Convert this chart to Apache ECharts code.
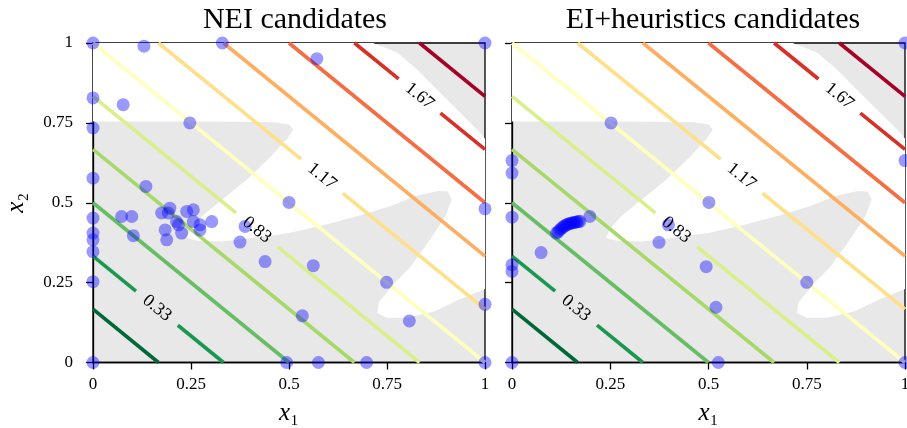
<!DOCTYPE html>
<html><head><meta charset="utf-8">
<script src="https://cdn.jsdelivr.net/npm/echarts@6/dist/echarts.min.js"></script>
<style>html,body{margin:0;padding:0;background:#fff}#c{width:907px;height:428px}</style>
</head><body><div id="c"></div>
<script>
const titles = ['NEI candidates', 'EI+heuristics candidates'];
const tickValues = [0, 0.25, 0.5, 0.75, 1];
const levels = [0.167, 0.333, 0.5, 0.667, 0.833, 1.0, 1.167, 1.333, 1.5, 1.667, 1.833];
const levelColors = ['#006837','#1a9850','#66bd63','#a6d96a','#d9ef8b','#ffffbf','#fee08b','#fdae61','#f46d43','#d73027','#a50026'];
const labelTexts = ['0.33', '0.83', '1.17', '1.67'];
const labelLevels = [0.333, 0.833, 1.167, 1.667];
const labelX1 = [0.163, 0.418, 0.584, 0.833];

// outline of the white (feasible) region, in data coordinates
const feasX1 = [0, 0.714, 0.776, 0.827, 0.878, 0.929, 0.98, 1, 1, 0.93, 0.87, 0.80, 0.75, 0.725, 0.73, 0.77, 0.81, 0.86, 0.90, 0.915, 0.905, 0.88, 0.82, 0.76, 0.68, 0.59, 0.50, 0.40, 0.33, 0.27, 0.239, 0.25, 0.28, 0.33, 0.39, 0.45, 0.495, 0.511, 0.50, 0.46, 0.30, 0];
const feasX2 = [1, 1, 0.97, 0.917, 0.854, 0.791, 0.729, 0.70, 0.23, 0.195, 0.16, 0.14, 0.14, 0.155, 0.19, 0.25, 0.30, 0.385, 0.46, 0.51, 0.535, 0.537, 0.52, 0.49, 0.46, 0.43, 0.405, 0.389, 0.379, 0.38, 0.39, 0.42, 0.46, 0.51, 0.57, 0.64, 0.70, 0.729, 0.745, 0.752, 0.754, 0.754];

const neiX1 = [0, 0.13, 0.33, 1, 0.571, 0, 0.077, 0, 0.247, 0, 0.135, 0, 0.073, 0.099, 0, 0.103, 0, 0, 0, 0,
  0.175, 0.196, 0.192, 0.239, 0.256, 0.213, 0.218, 0.184, 0.188, 0.226, 0.256, 0.273, 0.273, 0.303,
  0.388, 0.375, 0.5, 0.439, 0.562, 0.749, 1, 0.807, 0.534, 1, 0.494, 0.575, 0.698, 1];
const neiX2 = [1, 0.99, 1, 1, 0.951, 0.828, 0.807, 0.734, 0.75, 0.577, 0.551, 0.452, 0.457, 0.457, 0.405, 0.397, 0.384, 0.347, 0.253, 0,
  0.468, 0.483, 0.468, 0.473, 0.478, 0.441, 0.431, 0.415, 0.384, 0.405, 0.441, 0.431, 0.415, 0.441,
  0.426, 0.377, 0.501, 0.316, 0.303, 0.251, 0.481, 0.13, 0.146, 0.182, 0, 0, 0, 0];

const eiX1 = [1, 0.252, 0, 0, 1, 0, 0.198, 0.501, 0.398, 0.374, 0.074, 0, 0, 0.494, 0.519, 0.75, 0, 0.525, 1,
  0.113, 0.117, 0.121, 0.125, 0.129, 0.133, 0.137, 0.141, 0.145, 0.149, 0.153, 0.157, 0.161, 0.165, 0.169, 0.173];
const eiX2 = [1, 0.75, 0.632, 0.593, 0.632, 0.455, 0.457, 0.501, 0.431, 0.376, 0.344, 0.306, 0.285, 0.30, 0.173, 0.251, 0, 0, 0,
  0.405, 0.409, 0.414, 0.419, 0.423, 0.427, 0.430, 0.432, 0.434, 0.436, 0.437, 0.438, 0.439, 0.440, 0.441, 0.442];

const SERIF = 'Liberation Serif';
const grids = [
  {left: 93, top: 43, width: 392, height: 319.5},
  {left: 512, top: 43, width: 393, height: 319.5}
];

function zip(a, b) { return a.map((v, i) => [v, b[i]]); }

const nameRich = {
  i: {fontFamily: SERIF, fontStyle: 'italic', fontSize: 25, color: '#000'},
  s: {fontFamily: SERIF, fontSize: 25, color: '#000'}
};

const series = [];
const xAxes = [], yAxes = [];
[0, 1].forEach(gi => {
  xAxes.push({
    type: 'value', gridIndex: gi, min: 0, max: 1, interval: 0.25,
    axisLine: {show: true, lineStyle: {color: '#000', width: 1.3}},
    axisTick: {show: true, length: 7, lineStyle: {color: '#000', width: 1.3}},
    axisLabel: {show: true, margin: 14, color: '#000', fontFamily: SERIF, fontSize: 17},
    splitLine: {show: false},
    name: '{i|x}{s|₁}', nameLocation: 'middle', nameGap: 38,
    nameTextStyle: {rich: nameRich}
  });
  yAxes.push({
    type: 'value', gridIndex: gi, min: 0, max: 1, interval: 0.25,
    axisLine: {show: true, lineStyle: {color: '#000', width: 1.3}},
    axisTick: {show: true, length: 7, lineStyle: {color: '#000', width: 1.3}},
    axisLabel: {show: gi === 0, margin: 20, color: '#000', fontFamily: SERIF, fontSize: 17},
    splitLine: {show: false},
    name: gi === 0 ? '{i|x}{s|₂}' : '', nameLocation: 'middle', nameGap: 64, nameRotate: 90,
    nameTextStyle: {rich: nameRich}
  });

  // white feasible region
  series.push({
    type: 'custom', xAxisIndex: gi, yAxisIndex: gi, silent: true, z: 1,
    data: [[0, 0]],
    renderItem: function (params, api) {
      const pts = feasX1.map((x, i) => api.coord([x, feasX2[i]]));
      return {type: 'polygon', shape: {points: pts}, style: {fill: '#ffffff', stroke: null}};
    }
  });

  // contour lines of x1 + x2
  series.push({
    type: 'custom', xAxisIndex: gi, yAxisIndex: gi, silent: true, z: 2,
    data: levels.map((c, i) => [c, i]),
    encode: {x: 0, y: 1},
    renderItem: function (params, api) {
      const c = levels[params.dataIndex];
      const col = levelColors[params.dataIndex];
      const a = api.coord([Math.max(0, c - 1), Math.min(1, c)]);
      const b = api.coord([Math.min(1, c), Math.max(0, c - 1)]);
      const li = labelLevels.indexOf(c);
      const style = {stroke: col, lineWidth: 3.6, fill: null};
      if (li < 0) {
        return {type: 'line', shape: {x1: a[0], y1: a[1], x2: b[0], y2: b[1]}, style: style};
      }
      const lx = labelX1[li];
      const p = api.coord([lx, c - lx]);
      const dx = b[0] - a[0], dy = b[1] - a[1];
      const L = Math.sqrt(dx * dx + dy * dy);
      const ux = dx / L, uy = dy / L, hg = 27;
      return {type: 'group', children: [
        {type: 'line', shape: {x1: a[0], y1: a[1], x2: p[0] - ux * hg, y2: p[1] - uy * hg}, style: style},
        {type: 'line', shape: {x1: p[0] + ux * hg, y1: p[1] + uy * hg, x2: b[0], y2: b[1]}, style: style}
      ]};
    }
  });

  // scatter candidates
  series.push({
    type: 'scatter', xAxisIndex: gi, yAxisIndex: gi, z: 3,
    symbolSize: 13, itemStyle: {color: 'rgba(0,0,255,0.5)'},
    data: gi === 0 ? zip(neiX1, neiX2) : zip(eiX1, eiX2),
    clip: false, silent: true
  });

  // contour labels
  series.push({
    type: 'custom', xAxisIndex: gi, yAxisIndex: gi, silent: true, z: 4,
    data: labelX1.map((x, i) => [x, labelLevels[i] - x]),
    renderItem: function (params, api) {
      const i = params.dataIndex;
      const p = api.coord([labelX1[i], labelLevels[i] - labelX1[i]]);
      const a = api.coord([0, 1]), b = api.coord([1, 0]);
      const ang = Math.atan2(b[1] - a[1], b[0] - a[0]);
      return {type: 'text', x: p[0], y: p[1], rotation: -ang,
        style: {text: labelTexts[i], fontFamily: SERIF, fontSize: 18, fill: '#000', align: 'center', verticalAlign: 'middle'}};
    }
  });
});

const chart = echarts.init(document.getElementById('c'), null, {renderer: 'canvas'});
chart.setOption({
  animation: false,
  backgroundColor: '#ffffff',
  title: [
    {text: titles[0], left: 290, top: 0, textAlign: 'center', textStyle: {fontFamily: SERIF, fontWeight: 'normal', fontSize: 30, color: '#000'}},
    {text: titles[1], left: 708, top: 0, textAlign: 'center', textStyle: {fontFamily: SERIF, fontWeight: 'normal', fontSize: 30, color: '#000'}}
  ],
  grid: grids.map(g => Object.assign({show: true, containLabel: false, outerBoundsMode: 'none', backgroundColor: '#e8e8e8', borderColor: '#000', borderWidth: 1.3}, g)),
  xAxis: xAxes,
  yAxis: yAxes,
  series: series
});
</script>
</body></html>
